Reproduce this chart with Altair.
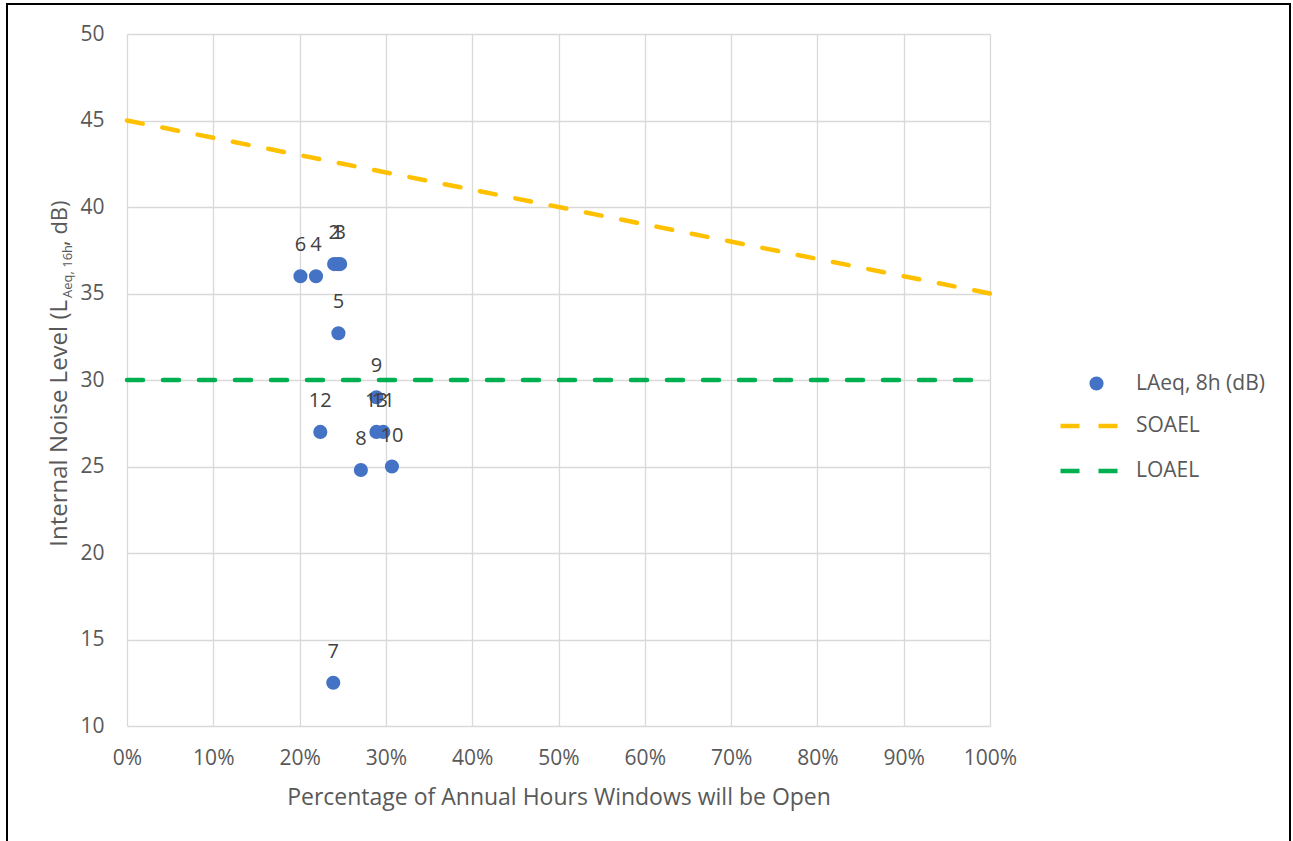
import altair as alt
import pandas as pd

# ---- data ----
point_ids = ["1", "2", "3", "4", "5", "6", "7", "8", "9", "10", "11", "12", "13"]
pct_open = [0.244, 0.240, 0.247, 0.219, 0.245, 0.201, 0.239, 0.271, 0.289, 0.307, 0.297, 0.224, 0.289]
laeq = [36.7, 36.7, 36.7, 36.0, 32.7, 36.0, 12.5, 24.8, 29.0, 25.0, 27.0, 27.0, 27.0]

line_x = [0.0, 1.0]
soael_y = [45, 35]
loael_y = [30, 30]

x_ticks = [0.0, 0.1, 0.2, 0.3, 0.4, 0.5, 0.6, 0.7, 0.8, 0.9, 1.0]
y_ticks = [10, 15, 20, 25, 30, 35, 40, 45, 50]

FONT = "Open Sans"
GREY = "#595959"

pts = pd.DataFrame({"id": point_ids, "pct": pct_open, "laeq": laeq,
                    "series": ["LAeq, 8h (dB)"] * len(point_ids)})
lines = pd.DataFrame({
    "pct": line_x + line_x,
    "level": soael_y + loael_y,
    "series": ["SOAEL"] * 2 + ["LOAEL"] * 2,
})

xscale = alt.Scale(domain=[0, 1], nice=False, zero=False)
yscale = alt.Scale(domain=[10, 50], nice=False, zero=False)

xaxis = alt.Axis(values=x_ticks, format=".0%", title="Percentage of Annual Hours Windows will be Open",
                 grid=True, ticks=False, domain=False, labelPadding=21, titlePadding=18,
                 labelFlush=False, labelOverlap=False)
yaxis = alt.Axis(values=y_ticks, title=None, grid=True, ticks=False, domain=False, labelPadding=23)

points = alt.Chart(pts).mark_point(filled=True, size=200, opacity=1, shape="circle").encode(
    x=alt.X("pct:Q", scale=xscale, axis=xaxis),
    y=alt.Y("laeq:Q", scale=yscale, axis=yaxis),
    color=alt.Color("series:N", scale=alt.Scale(domain=["LAeq, 8h (dB)"], range=["#4472C4"]),
                    legend=alt.Legend(title=None, orient="none", legendX=959, legendY=339,
                                      symbolType="circle", symbolSize=200, labelOffset=29,
                                      padding=0)),
)

labels = alt.Chart(pts).mark_text(fontSize=20, font=FONT, color="#404040", baseline="alphabetic",
                                  align="center", dy=-25).encode(
    x=alt.X("pct:Q", scale=xscale),
    y=alt.Y("laeq:Q", scale=yscale),
    text="id:N",
)

ref_lines = alt.Chart(lines).mark_line(strokeWidth=4.5, strokeDash=[16, 20], strokeCap="round").encode(
    x=alt.X("pct:Q", scale=xscale),
    y=alt.Y("level:Q", scale=yscale),
    color=alt.Color("series:N", scale=alt.Scale(domain=["SOAEL", "LOAEL"], range=["#FFC000", "#00B050"]),
                    legend=alt.Legend(title=None, orient="none", legendX=931, legendY=361,
                                      symbolType="stroke", symbolSize=3249, symbolStrokeWidth=4.5,
                                      symbolDash=[19, 19], labelOffset=16, rowPadding=4,
                                      padding=0)),
    detail="series:N",
)

one = pd.DataFrame({"k": [0]})
frame = alt.Chart(one).mark_rect(filled=False, stroke="black", strokeWidth=2).encode(
    x=alt.value(-120), x2=alt.value(1163), y=alt.value(-30), y2=alt.value(860)
)

ytitle_main = alt.Chart(one).mark_text(text="Internal Noise Level (L", angle=270, align="right",
                                       baseline="alphabetic", fontSize=24, font=FONT, color=GREY).encode(
    x=alt.value(-60), y=alt.value(266))
ytitle_sub = alt.Chart(one).mark_text(text="Aeq, 16h", angle=270, align="left",
                                      baseline="alphabetic", fontSize=13, font=FONT, color=GREY).encode(
    x=alt.value(-55), y=alt.value(264))
ytitle_end = alt.Chart(one).mark_text(text=", dB)", angle=270, align="left",
                                      baseline="alphabetic", fontSize=22, font=FONT, color=GREY).encode(
    x=alt.value(-60), y=alt.value(212))

chart = alt.layer(points, ref_lines, labels, frame, ytitle_main, ytitle_sub, ytitle_end).resolve_scale(
    color="independent"
).properties(
    width=863, height=692,
    background="white",
    autosize=alt.AutoSizeParams(type="none"),
    padding={"left": 127, "top": 34, "right": 303, "bottom": 115},
).configure_view(stroke=None).configure_axis(
    labelFont=FONT, labelFontSize=21, labelColor=GREY, titleFont=FONT, titleFontSize=23,
    titleColor=GREY, titleFontWeight="normal", gridColor="#D9D9D9", gridWidth=1.3,
).configure_legend(
    labelFont=FONT, labelFontSize=21, labelColor=GREY,
)

chart.save("out.html", embed_options={"renderer": "svg", "actions": False})
